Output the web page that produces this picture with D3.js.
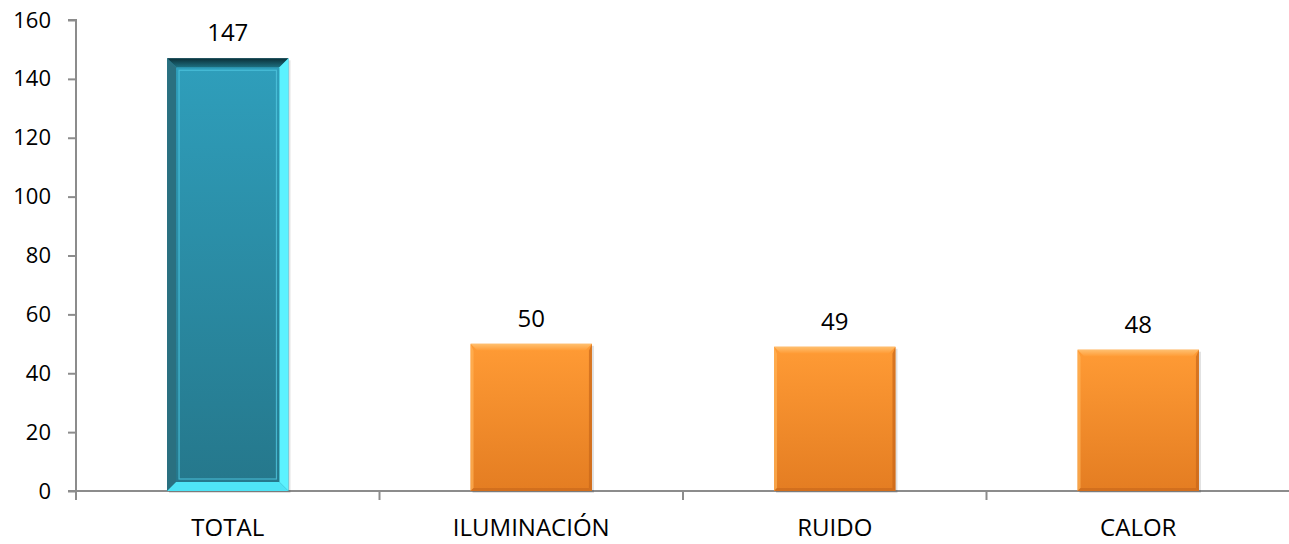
<!DOCTYPE html>
<html>
<head>
<meta charset="utf-8">
<script src="https://cdn.jsdelivr.net/npm/d3@7"></script>
<style>
  body { margin: 0; background: #fff; }
  text { font-family: "Open Sans", "Liberation Sans", sans-serif; }
</style>
</head>
<body>
<div id="chart"></div>
<script>
const categories = ["TOTAL", "ILUMINACIÓN", "RUIDO", "CALOR"];
const values = [147, 50, 49, 48];
const y_ticks = [0, 20, 40, 60, 80, 100, 120, 140, 160];

const width = 1289, height = 544;
const margin = {top: 20, right: -1, bottom: 53, left: 76};
const tick_font_size = 22;
const label_font_size = 24;

const svg = d3.select("#chart").append("svg")
    .attr("width", width).attr("height", height);

const defs = svg.append("defs");

function linGrad(id, stops, vertical = true) {
    const g = defs.append("linearGradient").attr("id", id)
        .attr("x1", 0).attr("y1", 0)
        .attr("x2", vertical ? 0 : 1).attr("y2", vertical ? 1 : 0);
    stops.forEach(s => g.append("stop").attr("offset", s[0]).attr("stop-color", s[1]));
}
linGrad("teal", [[0, "#2f9fbc"], [1, "#25778b"]]);
linGrad("orange", [[0, "#ff9b35"], [1, "#e47d22"]]);
linGrad("orangeTop", [[0, "#ffc070"], [1, "#ff9a33"]]);
linGrad("tealTop", [[0, "#0b2f37"], [1, "#1d6f80"]]);

const x = d3.scaleBand()
    .domain(categories)
    .range([margin.left, width - margin.right])
    .paddingInner(0.6).paddingOuter(0.3);

const y = d3.scaleLinear()
    .domain([0, 160])
    .range([height - margin.bottom, margin.top]);

// y axis
const y_axis = svg.append("g")
    .attr("transform", "translate(" + margin.left + ",0)")
    .call(d3.axisLeft(y).tickValues(y_ticks).tickSize(8).tickPadding(17));
y_axis.select(".domain").attr("stroke", "#8c8c8c").attr("stroke-width", 2)
    .attr("d", "M-8," + y(160) + "H0V" + (y(0) + 9));
y_axis.selectAll(".tick line").attr("stroke", "#8c8c8c").attr("stroke-width", 2);
y_axis.selectAll(".tick text").attr("font-size", tick_font_size).attr("fill", "#000");

// x axis line and separators
const base = y(0);
svg.append("line")
    .attr("x1", margin.left - 8).attr("x2", width)
    .attr("y1", base).attr("y2", base)
    .attr("stroke", "#8c8c8c").attr("stroke-width", 2);

const step = x.step();
const bounds = categories.slice(1).map(c => x(c) - x.paddingInner() * step / 2);
bounds.forEach(bx => {
    svg.append("line")
        .attr("x1", bx).attr("x2", bx)
        .attr("y1", base).attr("y2", base + 9)
        .attr("stroke", "#8c8c8c").attr("stroke-width", 2);
});

svg.append("g").selectAll("text")
    .data(categories).enter().append("text")
    .attr("x", d => x(d) + x.bandwidth() / 2)
    .attr("y", base + 45)
    .attr("text-anchor", "middle")
    .attr("font-size", label_font_size)
    .text(d => d);

// bars
const bars = svg.append("g");
categories.forEach((c, i) => {
    const x0 = x(c), w = x.bandwidth();
    const y0 = y(values[i]), h = base - y0;
    const g = bars.append("g");
    // soft shadow
    g.append("rect").attr("x", x0 + 2).attr("y", y0 + 2).attr("width", w).attr("height", h)
        .attr("fill", "#000").attr("opacity", 0.12);
    if (i === 0) {
        const b = 9;
        g.append("rect").attr("x", x0).attr("y", y0).attr("width", w).attr("height", h)
            .attr("fill", "url(#teal)");
        // bevel faces
        g.append("polygon").attr("points", [[x0, y0], [x0 + w, y0], [x0 + w - b, y0 + b], [x0 + b, y0 + b]].join(" "))
            .attr("fill", "url(#tealTop)");
        g.append("polygon").attr("points", [[x0, y0], [x0 + b, y0 + b], [x0 + b, base - b], [x0, base]].join(" "))
            .attr("fill", "#2a7080");
        g.append("polygon").attr("points", [[x0 + w, y0], [x0 + w, base], [x0 + w - b, base - b], [x0 + w - b, y0 + b]].join(" "))
            .attr("fill", "#5cf2ff");
        g.append("polygon").attr("points", [[x0, base], [x0 + w, base], [x0 + w - b, base - b], [x0 + b, base - b]].join(" "))
            .attr("fill", "#4ee4f6");
        // inner frame
        g.append("rect").attr("x", x0 + b + 3).attr("y", y0 + b + 3)
            .attr("width", w - 2 * b - 6).attr("height", h - 2 * b - 6)
            .attr("fill", "none").attr("stroke", "#4fc6de").attr("stroke-width", 1.2).attr("opacity", 0.8);
    } else {
        const b = 7;
        g.append("rect").attr("x", x0).attr("y", y0).attr("width", w).attr("height", h)
            .attr("fill", "url(#orange)");
        g.append("polygon").attr("points", [[x0, y0], [x0 + w, y0], [x0 + w - b, y0 + b], [x0 + b, y0 + b]].join(" "))
            .attr("fill", "url(#orangeTop)");
        g.append("polygon").attr("points", [[x0, y0], [x0 + 3, y0 + b], [x0 + 3, base - 3], [x0, base]].join(" "))
            .attr("fill", "#ffb257").attr("opacity", 0.7);
        g.append("polygon").attr("points", [[x0 + w, y0], [x0 + w, base], [x0 + w - 3, base - 3], [x0 + w - 3, y0 + b]].join(" "))
            .attr("fill", "#c7661a").attr("opacity", 0.7);
        g.append("polygon").attr("points", [[x0, base], [x0 + w, base], [x0 + w - 3, base - 3], [x0 + 3, base - 3]].join(" "))
            .attr("fill", "#c7661a").attr("opacity", 0.6);
    }
});

// value labels
svg.append("g").selectAll("text")
    .data(categories).enter().append("text")
    .attr("x", d => x(d) + x.bandwidth() / 2)
    .attr("y", (d, i) => y(values[i]) - 17)
    .attr("text-anchor", "middle")
    .attr("font-size", label_font_size)
    .text((d, i) => values[i]);
</script>
</body>
</html>
